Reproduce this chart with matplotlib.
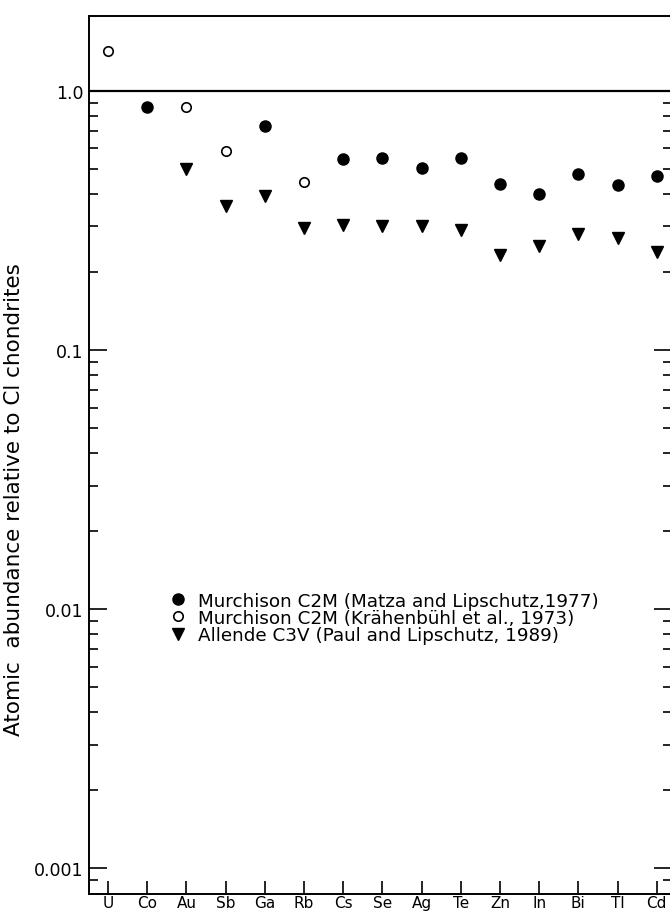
import matplotlib
matplotlib.use("Agg")
import matplotlib.pyplot as plt
from matplotlib.ticker import FixedLocator, LogLocator, NullFormatter

plt.rcParams.update({"font.family": "DejaVu Sans", "font.size": 12})

ELEMENTS = ["U", "Co", "Au", "Sb", "Ga", "Rb", "Cs", "Se", "Ag", "Te",
            "Zn", "In", "Bi", "Tl", "Cd"]

# Murchison C2M (Matza and Lipschutz, 1977)
matza_el = ["Co", "Ga", "Cs", "Se", "Ag", "Te", "Zn", "In", "Bi", "Tl", "Cd"]
matza_val = [0.87, 0.73, 0.545, 0.55, 0.505, 0.552, 0.438, 0.40, 0.479, 0.435, 0.471]

# Murchison C2M (Krahenbuhl et al., 1973)
krah_el = ["U", "Au", "Sb", "Rb"]
krah_val = [1.42, 0.87, 0.589, 0.444]

# Allende C3V (Paul and Lipschutz, 1989)
allende_el = ["Au", "Sb", "Ga", "Rb", "Cs", "Se", "Ag", "Te", "Zn", "In",
              "Bi", "Tl", "Cd"]
allende_val = [0.50, 0.359, 0.393, 0.295, 0.305, 0.30, 0.302, 0.29, 0.232,
               0.253, 0.281, 0.270, 0.239]

YTICKS = [1.0, 0.1, 0.01, 0.001]
YTICKLABELS = ["1.0", "0.1", "0.01", "0.001"]

pos = {e: i for i, e in enumerate(ELEMENTS)}

fig = plt.figure(figsize=(6.7, 9.12), dpi=100)
ax = fig.add_axes([89 / 670, 1 - 895 / 912, (672 - 89) / 670, (895 - 17) / 912])

ax.plot([pos[e] for e in matza_el], matza_val, "o", color="black", ms=8,
        ls="none", label="Murchison C2M (Matza and Lipschutz,1977)")
ax.plot([pos[e] for e in krah_el], krah_val, "o", mfc="white", mec="black",
        mew=1.2, ms=6.8, ls="none",
        label="Murchison C2M (Krähenbühl et al., 1973)")
ax.plot([pos[e] for e in allende_el], allende_val, "v", color="black", ms=8,
        ls="none", label="Allende C3V (Paul and Lipschutz, 1989)")

ax.axhline(1.0, color="black", lw=1.6)

ax.set_yscale("log")
ax.set_ylim(7.97e-4, 1.946)
ax.set_xlim(-0.485, 14.39)

ax.yaxis.set_major_locator(FixedLocator(YTICKS))
ax.set_yticklabels(YTICKLABELS)
ax.yaxis.set_minor_locator(LogLocator(base=10, subs=range(2, 10), numticks=20))
ax.yaxis.set_minor_formatter(NullFormatter())

ax.set_xticks(range(len(ELEMENTS)))
ax.set_xticklabels(ELEMENTS)

ax.tick_params(axis="both", which="both", direction="in", top=False,
               right=True, width=1.2, labelsize=12.5)
ax.tick_params(axis="y", which="major", length=13, pad=4)
ax.tick_params(axis="y", which="minor", length=6.5)
ax.tick_params(axis="x", which="major", length=9.5, pad=0.5, labelsize=11)
for s in ax.spines.values():
    s.set_linewidth(1.4)

ax.set_ylabel("Atomic  abundance relative to Cl chondrites", fontsize=15.5)
ax.yaxis.set_label_coords(-0.1115, 0.4505)

ax.legend(loc="upper left", bbox_to_anchor=(0.143, 0.3445), frameon=False,
          fontsize=13.2, handlelength=0.6, handletextpad=0.8,
          labelspacing=-0.04, borderaxespad=0, borderpad=0)

fig.savefig("out.png", dpi=100)
